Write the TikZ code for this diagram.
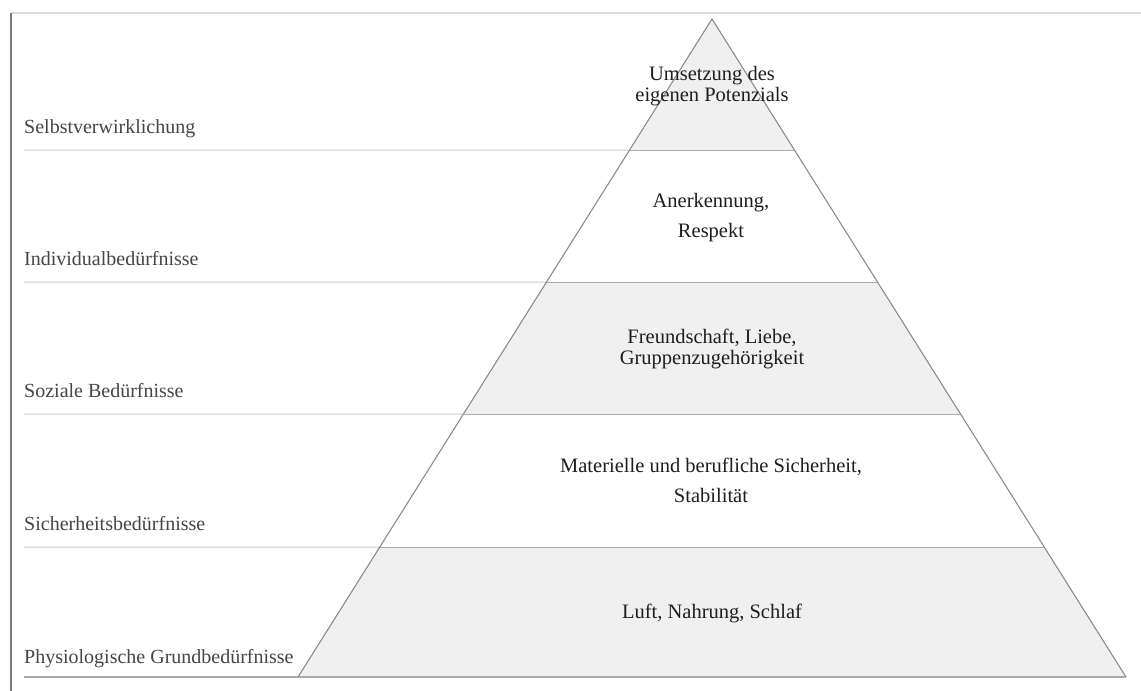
\documentclass[tikz,border=0pt]{standalone}
\usepackage{fontspec}
\setmainfont{Liberation Serif}
\usetikzlibrary{calc}
\definecolor{bandfill}{HTML}{F0F0F0}
\definecolor{sideline}{HTML}{8C8C8C}
\definecolor{bandline}{HTML}{ABABAB}
\definecolor{rowline}{HTML}{CDCDCD}
\definecolor{frameline}{HTML}{7A7A7A}
\definecolor{topline}{HTML}{DADADA}
\definecolor{leveltext}{HTML}{454545}
\definecolor{needtext}{HTML}{1E1E1E}
\tikzset{
  levellabel/.style={anchor=base west, inner sep=0pt, text=leveltext,
    font=\fontsize{20}{24}\selectfont},
  needlabel/.style={anchor=base, inner sep=0pt, text=needtext,
    font=\fontsize{20.5}{24}\selectfont},
  sep/.style={draw=rowline, line width=1pt},
  band/.style={fill=bandfill},
}
\begin{document}
\begin{tikzpicture}[x=1pt,y=-1pt]
\useasboundingbox (0,0) rectangle (1141,691);
\fill[white] (0,0) rectangle (1141,691);

% pyramid corners and the points where the level borders meet its sides
\coordinate (apex) at (712,19);
\coordinate (bl) at (298,677);
\coordinate (br) at (1126,677);
\coordinate (l1) at ($(apex)!0.19909!(bl)$);
\coordinate (r1) at ($(apex)!0.19909!(br)$);
\coordinate (l2) at ($(apex)!0.39970!(bl)$);
\coordinate (r2) at ($(apex)!0.39970!(br)$);
\coordinate (l3) at ($(apex)!0.60030!(bl)$);
\coordinate (r3) at ($(apex)!0.60030!(br)$);
\coordinate (l4) at ($(apex)!0.80243!(bl)$);
\coordinate (r4) at ($(apex)!0.80243!(br)$);

% left ends of the level rows
\coordinate (s1) at (24,150);
\coordinate (s2) at (24,282);
\coordinate (s3) at (24,414);
\coordinate (s4) at (24,547);
\coordinate (s5) at (24,677);

% frame
\coordinate (ftop) at (11,13);
\coordinate (fbot) at (11,691);
\coordinate (fright) at (1141,13);
\draw[topline, line width=1.4pt] (ftop) -- (fright);
\draw[frameline, line width=1.4pt] (ftop) -- (fbot);

% shaded levels
\fill[band] (apex) -- (r1) -- (l1) -- cycle;
\fill[band] (l2) -- (r2) -- (r3) -- (l3) -- cycle;
\fill[band] (l4) -- (r4) -- (br) -- (bl) -- cycle;

% row separators
\draw[sep] (s1) -- (l1);
\draw[sep] (s2) -- (l2);
\draw[sep] (s3) -- (l3);
\draw[sep] (s4) -- (l4);
\draw[bandline, line width=1.2pt] (s5) -- (br);

% level borders inside the pyramid
\draw[bandline, line width=1pt] (l1) -- (r1);
\draw[bandline, line width=1pt] (l2) -- (r2);
\draw[bandline, line width=1pt] (l3) -- (r3);
\draw[bandline, line width=1pt] (l4) -- (r4);

% pyramid sides
\draw[sideline, line width=1.1pt] (bl) -- (apex) -- (br);

% level names
\node[levellabel] (n1) at (24,133) {Selbstverwirklichung};
\node[levellabel] (n2) at (24,265) {Individualbedürfnisse};
\node[levellabel] (n3) at (24,397) {Soziale Bedürfnisse};
\node[levellabel] (n4) at (24,530) {Sicherheitsbedürfnisse};
\node[levellabel] (n5) at (24,663) {Physiologische Grundbedürfnisse};

% needs of each level
\node[needlabel] (p1a) at (712,80) {Umsetzung des};
\node[needlabel] (p1b) at (712,101) {eigenen Potenzials};
\node[needlabel] (p2a) at (711,207) {Anerkennung,};
\node[needlabel] (p2b) at (711,237) {Respekt};
\node[needlabel] (p3a) at (712,343) {Freundschaft, Liebe,};
\node[needlabel] (p3b) at (712,364) {Gruppenzugehörigkeit};
\node[needlabel] (p4a) at (711,472) {Materielle und berufliche Sicherheit,};
\node[needlabel] (p4b) at (711,502) {Stabilität};
\node[needlabel] (p5) at (712,618) {Luft, Nahrung, Schlaf};
\end{tikzpicture}
\end{document}
